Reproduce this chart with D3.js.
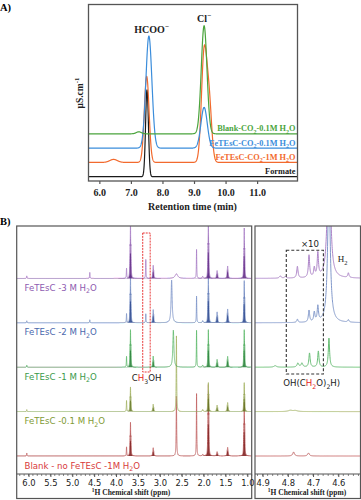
<!doctype html>
<html lang="en">
<head>
<meta charset="utf-8">
<title>IC and 1H NMR</title>
<script src="https://d3js.org/d3.v7.min.js"></script>
<style>
  body { margin: 0; background: #fff; }
  svg { display: block; }
</style>
</head>
<body>
<script>
// ---------- A) ion chromatograms ----------
// peaks: [retention time (min), height, sigma (min)]
var timeTicks = [6, 7, 8, 9, 10, 11];
var icNames = ["Formate", "FeTEsC-CO_2-1M H_2O", "FeTEsC-CO_2-0.1M H_2O", "Blank-CO_2-0.1M H_2O"];
var icColors = ["#1a1a1a", "#f26a2e", "#3b8ddb", "#4aa43c"];
var icFormate = [[7.51, 86.7, 0.045]];
var icFe1M = [[6.45, 3, 0.12], [7.50, 86, 0.075], [9.32, 108, 0.085], [9.48, 58, 0.08]];
var icFe01M = [[7.57, 112, 0.095], [9.32, 40.7, 0.1]];
var icBlank = [[7.25, 2, 0.08], [9.32, 108, 0.09]];
var icPeaks = [icFormate, icFe1M, icFe01M, icBlank];

// ---------- B) 1H NMR ----------
// peaks: [ppm, height, half width (ppm), number of lines]
var ppmTicks = [6.0, 5.5, 5.0, 4.5, 4.0, 3.5, 3.0, 2.5, 2.0, 1.5, 1.0];
var zoomTicks = [4.9, 4.8, 4.7, 4.6];
var nmrNames = ["Blank - no FeTEsC -1M H_2O", "FeTEsC -0.1 M H_2O", "FeTEsC -1 M H_2O", "FeTEsC -2 M H_2O", "FeTEsC -3 M H_2O"];
var nmrLine = ["#c46a6a", "#a9b86c", "#66bd73", "#8299cb", "#ad84c8"];
var nmrDark = ["#7a1515", "#5f7320", "#1e7a30", "#23418a", "#5b2180"];
var nmrText = ["#d83a3a", "#7f9a35", "#3a9a4a", "#4a68ad", "#8e5bb0"];

var nmrBlank = [[6.04, 3, 0.005, 1], [3.76, 9, 0.005, 1], [3.67, 28.7, 0.005, 3], [3.15, 6.7, 0.006, 3],
  [2.62, 60, 0.006, 1], [2.16, 62.7, 0.005, 1], [2.02, 1.5, 0.01, 1], [1.89, 61, 0.005, 3],
  [1.69, 3.3, 0.007, 3], [1.45, 6.7, 0.007, 3], [1.07, 46, 0.005, 3]];
var nmr01M = [[6.04, 2, 0.005, 1], [3.76, 11, 0.005, 1], [3.67, 21, 0.005, 3], [3.15, 6, 0.006, 3],
  [2.62, 76, 0.006, 1], [2.02, 2, 0.01, 1], [1.89, 24.7, 0.005, 3], [1.69, 5, 0.007, 3],
  [1.45, 7, 0.007, 3], [1.07, 24.7, 0.005, 3]];
var nmr1M = [[6.04, 2, 0.005, 1], [3.76, 10.7, 0.005, 1], [3.67, 32, 0.005, 3], [3.15, 9, 0.006, 3],
  [2.69, 37, 0.014, 1], [2.16, 37, 0.005, 1], [2.02, 2, 0.01, 1], [1.89, 32, 0.005, 3],
  [1.69, 6, 0.007, 3], [1.45, 8.4, 0.007, 3], [1.07, 32, 0.005, 3]];
var nmr2M = [[6.04, 2, 0.005, 1], [4.6, 3, 0.005, 1], [3.76, 9, 0.005, 1], [3.67, 41, 0.005, 3],
  [3.32, 9, 0.005, 1], [3.15, 10.7, 0.006, 3], [2.73, 42.7, 0.014, 1], [2.16, 26.7, 0.005, 1],
  [2.02, 2, 0.01, 1], [1.89, 42, 0.005, 3], [1.69, 8.4, 0.007, 3], [1.45, 10.7, 0.007, 3], [1.07, 36, 0.005, 3]];
var nmr3M = [[6.04, 2.5, 0.005, 1], [4.6, 6, 0.005, 1], [3.76, 10, 0.005, 1], [3.67, 48, 0.005, 3],
  [3.32, 19, 0.005, 1], [3.15, 10.6, 0.006, 3], [2.62, 4.6, 0.035, 1], [2.16, 29, 0.005, 1],
  [2.02, 2, 0.01, 1], [1.89, 50, 0.005, 3], [1.69, 6, 0.007, 3], [1.45, 9.6, 0.007, 3], [1.07, 43, 0.005, 3]];
var nmrPeaks = [nmrBlank, nmr01M, nmr1M, nmr2M, nmr3M];

// 4.93-4.51 ppm region, shown x10
var zBlank = [[4.777, 4, 0.004], [4.718, 3, 0.004]];
var z01M = [[4.79, 1.2, 0.01], [4.77, 1, 0.01]];
var z1M = [[4.85, 1.5, 0.006], [4.76, 4, 0.004], [4.744, 4, 0.004], [4.714, 14, 0.003], [4.679, 16, 0.003], [4.637, 29, 0.003]];
var z2M = [[4.762, 3.3, 0.003], [4.716, 11.7, 0.003], [4.695, 9.4, 0.003], [4.681, 15, 0.003], [4.637, 140, 0.006], [4.56, 2.4, 0.003]];
var z3M = [[4.83, 2.3, 0.004], [4.81, 1.5, 0.004], [4.762, 11.6, 0.003], [4.716, 22.3, 0.003], [4.695, 9, 0.003],
  [4.681, 23.3, 0.003], [4.637, 170, 0.006], [4.56, 4.6, 0.003]];
var zPeaks = [zBlank, z01M, z1M, z2M, z3M];

var W = 361, H = 500;
var serif = "'Liberation Serif', 'Times New Roman', serif";
var sans = "'DejaVu Sans', Verdana, sans-serif";
var frameCol = "#555";

var svg = d3.select("body").append("svg")
  .attr("width", W).attr("height", H)
  .style("font-family", serif);

// text with _x subscripts and ^x superscripts
function richText(sel, str, fs) {
  var re = /([_^])(\{[^}]*\}|.)/g, last = 0, shift = 0, m;
  function add(txt, target, small) {
    if (!txt) return;
    var t = sel.append("tspan").text(txt).attr("dy", target - shift);
    if (small) t.style("font-size", (fs * 0.72) + "px");
    shift = target;
  }
  while ((m = re.exec(str))) {
    add(str.slice(last, m.index), 0, false);
    add(m[2].replace(/[{}]/g, ""), m[1] === "_" ? fs * 0.3 : -fs * 0.4, true);
    last = re.lastIndex;
  }
  add(str.slice(last), 0, false);
}

function gaussSum(t, peaks) {
  var s = 0;
  peaks.forEach(function(p) { s += p[1] * Math.exp(-0.5 * Math.pow((t - p[0]) / p[2], 2)); });
  return s;
}
// lorentzian lines, multiplets split by J with binomial intensities
var J = 0.011;
function lorSum(x, peaks) {
  var s = 0;
  peaks.forEach(function(p) {
    var n = p[3] || 1, w = p[2];
    var c = n === 3 ? [1, 2, 1] : (n === 2 ? [1, 1] : [1]);
    var cmax = d3.max(c);
    for (var k = 0; k < c.length; k++) {
      var x0 = p[0] + (k - (c.length - 1) / 2) * J;
      var d = (x - x0) / w;
      s += p[1] * c[k] / cmax / (1 + d * d);
    }
  });
  return s;
}

// ================= panel A =================
var ax = d3.scaleLinear().domain([5.64, 12.28]).range([88, 297.5]);
var ay = d3.scaleLinear().domain([0, 177]).range([181, 4]);
var icOffset = function(i) { return 4.3 + i * 14.3; };

svg.append("clipPath").attr("id", "clipA").append("rect")
  .attr("x", 88).attr("y", 4).attr("width", 209.5).attr("height", 177);

var gA = svg.append("g").attr("clip-path", "url(#clipA)");
var tGrid = d3.range(5.64, 12.3, 0.004);
icPeaks.forEach(function(peaks, i) {
  var pts = tGrid.map(function(t) { return [t, icOffset(i) + gaussSum(t, peaks)]; });
  gA.append("path")
    .attr("d", d3.line().x(function(d) { return ax(d[0]); }).y(function(d) { return ay(d[1]); })(pts))
    .attr("fill", "none")
    .attr("stroke", icColors[i])
    .attr("stroke-width", 1.2);
});

svg.append("rect").attr("x", 88.5).attr("y", 4.5).attr("width", 209).attr("height", 176.5)
  .attr("fill", "none").attr("stroke", frameCol).attr("stroke-width", 1.3);

var axisA = svg.append("g").attr("transform", "translate(0,181)")
  .call(d3.axisBottom(ax).tickValues(timeTicks).tickFormat(d3.format(".1f")).tickSize(3).tickPadding(5));
axisA.select(".domain").remove();
axisA.selectAll("line").attr("stroke", frameCol).attr("stroke-width", 1.2);
axisA.selectAll("text").style("font-family", serif).style("font-size", "10px")
  .style("font-weight", "bold").attr("fill", "#222");

svg.append("text").attr("x", 192.5).attr("y", 210).attr("text-anchor", "middle")
  .style("font-size", "10px").style("font-weight", "bold").attr("fill", "#222")
  .text("Retention time (min)");

var yl = svg.append("text").attr("transform", "translate(83,93) rotate(-90)")
  .attr("text-anchor", "middle").style("font-size", "9.5px").style("font-weight", "bold").attr("fill", "#222");
richText(yl, "μS.cm^{-1}", 9.5);

icNames.forEach(function(name, i) {
  var t = svg.append("text").attr("x", 295.5).attr("y", ay(icOffset(i)) - 2.5)
    .attr("text-anchor", "end").style("font-size", "8.3px").style("font-weight", "bold")
    .attr("fill", icColors[i]);
  richText(t, name, 8.3);
});

var hl = svg.append("text").attr("x", 151.5).attr("y", 33).attr("text-anchor", "middle")
  .style("font-size", "10px").style("font-weight", "bold").attr("fill", "#222");
richText(hl, "HCOO^{−}", 10);
var cl = svg.append("text").attr("x", 204).attr("y", 22).attr("text-anchor", "middle")
  .style("font-size", "10px").style("font-weight", "bold").attr("fill", "#222");
richText(cl, "Cl^{−}", 10);

svg.append("text").attr("x", 0).attr("y", 11).style("font-size", "10.5px").style("font-weight", "bold").text("A)");
svg.append("text").attr("x", 0).attr("y", 225).style("font-size", "10.5px").style("font-weight", "bold").text("B)");

// ================= panel B =================
var bx = d3.scaleLinear().domain([6.27, 0.9]).range([16.7, 251.7]);
var bz = d3.scaleLinear().domain([4.93, 4.51]).range([255, 361]);
var by = d3.scaleLinear().domain([0, 248]).range([474, 226]);
var nmrOffset = function(i) { return 18 + i * 44.4; };

svg.append("clipPath").attr("id", "clipB1").append("rect")
  .attr("x", 16.7).attr("y", 226).attr("width", 235).attr("height", 248);
svg.append("clipPath").attr("id", "clipB2").append("rect")
  .attr("x", 255).attr("y", 226).attr("width", 106).attr("height", 248);

var gB1 = svg.append("g").attr("clip-path", "url(#clipB1)");
var gB2 = svg.append("g").attr("clip-path", "url(#clipB2)");

var ppmGrid = d3.range(6.27, 0.9, -0.0008);
var zGrid = d3.range(4.93, 4.51, -0.0005);

nmrPeaks.forEach(function(peaks, i) {
  var base = nmrOffset(i);
  var pts = ppmGrid.map(function(x) { return [x, lorSum(x, peaks)]; });
  // dark core of the multiplets
  var multi = peaks.filter(function(p) { return p[3] === 3; });
  var mpts = ppmGrid.map(function(x) { return [x, lorSum(x, multi)]; });
  gB1.append("path")
    .attr("d", d3.line().x(function(d) { return bx(d[0]); }).y(function(d) { return by(base + d[1]); })(pts))
    .attr("fill", "none").attr("stroke", nmrLine[i]).attr("stroke-width", 0.9);
  gB1.append("path")
    .attr("d", d3.area().x(function(d) { return bx(d[0]); })
      .y0(by(base)).y1(function(d) { return by(base + d[1] * 0.75); })(mpts))
    .attr("fill", nmrDark[i]).attr("opacity", 0.85);

  var zpts = zGrid.map(function(x) { return [x, lorSum(x, zPeaks[i])]; });
  gB2.append("path")
    .attr("d", d3.line().x(function(d) { return bz(d[0]); }).y(function(d) { return by(base + d[1]); })(zpts))
    .attr("fill", "none").attr("stroke", nmrLine[i]).attr("stroke-width", 1);

  var t = svg.append("text").attr("x", 24.5).attr("y", by(base) + 12.5)
    .style("font-family", sans).style("font-size", "8.6px").attr("fill", nmrText[i]);
  richText(t, nmrNames[i], 8.6);
});

// frames
svg.append("rect").attr("x", 16.7).attr("y", 226).attr("width", 235).attr("height", 272.5)
  .attr("fill", "none").attr("stroke", frameCol).attr("stroke-width", 1.2);
svg.append("rect").attr("x", 255).attr("y", 226).attr("width", 105.5).attr("height", 272.5)
  .attr("fill", "none").attr("stroke", frameCol).attr("stroke-width", 1.2);

function nmrAxis(scale, major, minorStep, x0, x1) {
  var g = svg.append("g").attr("transform", "translate(0,474)");
  g.append("line").attr("x1", x0).attr("x2", x1).attr("stroke", frameCol).attr("stroke-width", 1.1);
  var dom = scale.domain();
  var minor = d3.range(Math.ceil(dom[1] / minorStep) * minorStep, dom[0], minorStep);
  g.selectAll(".mn").data(minor).enter().append("line")
    .attr("x1", function(d) { return scale(d); }).attr("x2", function(d) { return scale(d); })
    .attr("y1", 0).attr("y2", 2).attr("stroke", frameCol).attr("stroke-width", 0.7);
  var ax2 = d3.axisBottom(scale).tickValues(major).tickFormat(d3.format(".1f")).tickSize(3).tickPadding(3);
  var gg = g.append("g").call(ax2);
  gg.select(".domain").remove();
  gg.selectAll("line").attr("stroke", frameCol);
  gg.selectAll("text").style("font-family", sans).style("font-size", "8.4px").attr("fill", "#222");
}
nmrAxis(bx, ppmTicks, 0.1, 16.7, 251.7);
nmrAxis(bz, zoomTicks, 0.02, 255, 361);

[131, 307].forEach(function(cx) {
  var t = svg.append("text").attr("x", cx).attr("y", 495).attr("text-anchor", "middle")
    .style("font-size", "7.5px").style("font-weight", "bold").attr("fill", "#222");
  richText(t, "^1H Chemical shift (ppm)", 7.5);
});

// CH3OH box and label
svg.append("rect").attr("x", bx(3.39)).attr("y", by(241)).attr("width", bx(3.22) - bx(3.39))
  .attr("height", by(102) - by(241)).attr("fill", "none").attr("stroke", "#e52222")
  .attr("stroke-width", 0.9).attr("stroke-dasharray", "2,1");
var mt = svg.append("text").attr("x", bx(3.30)).attr("y", 381).attr("text-anchor", "middle")
  .style("font-family", sans).style("font-size", "8.6px").attr("fill", "#222");
mt.append("tspan").text("C");
mt.append("tspan").text("H").attr("fill", "#e52222");
mt.append("tspan").text("3").attr("dy", 2.6).style("font-size", "6.2px");
mt.append("tspan").text("OH").attr("dy", -2.6);

// OH(CH2O)2H box and labels
svg.append("rect").attr("x", bz(4.806)).attr("y", by(223.7)).attr("width", bz(4.659) - bz(4.806))
  .attr("height", by(100) - by(223.7)).attr("fill", "none").attr("stroke", "#333")
  .attr("stroke-width", 1.1).attr("stroke-dasharray", "3,2");
svg.append("text").attr("x", 310).attr("y", 246.5).attr("text-anchor", "middle")
  .style("font-family", sans).style("font-size", "8.6px").attr("fill", "#222").text("×10");
var h2 = svg.append("text").attr("x", 342.5).attr("y", 262).attr("text-anchor", "middle")
  .style("font-size", "9px").attr("fill", "#222");
richText(h2, "H_2", 9);
var ft = svg.append("text").attr("x", 311.7).attr("y", 386).attr("text-anchor", "middle")
  .style("font-family", sans).style("font-size", "8.6px").attr("fill", "#222");
ft.append("tspan").text("OH(C");
ft.append("tspan").text("H").attr("fill", "#e52222");
ft.append("tspan").text("2").attr("dy", 2.6).style("font-size", "6.2px").attr("fill", "#e52222");
ft.append("tspan").text("O)").attr("dy", -2.6);
ft.append("tspan").text("2").attr("dy", 2.6).style("font-size", "6.2px");
ft.append("tspan").text("H)").attr("dy", -2.6);
</script>
</body>
</html>
